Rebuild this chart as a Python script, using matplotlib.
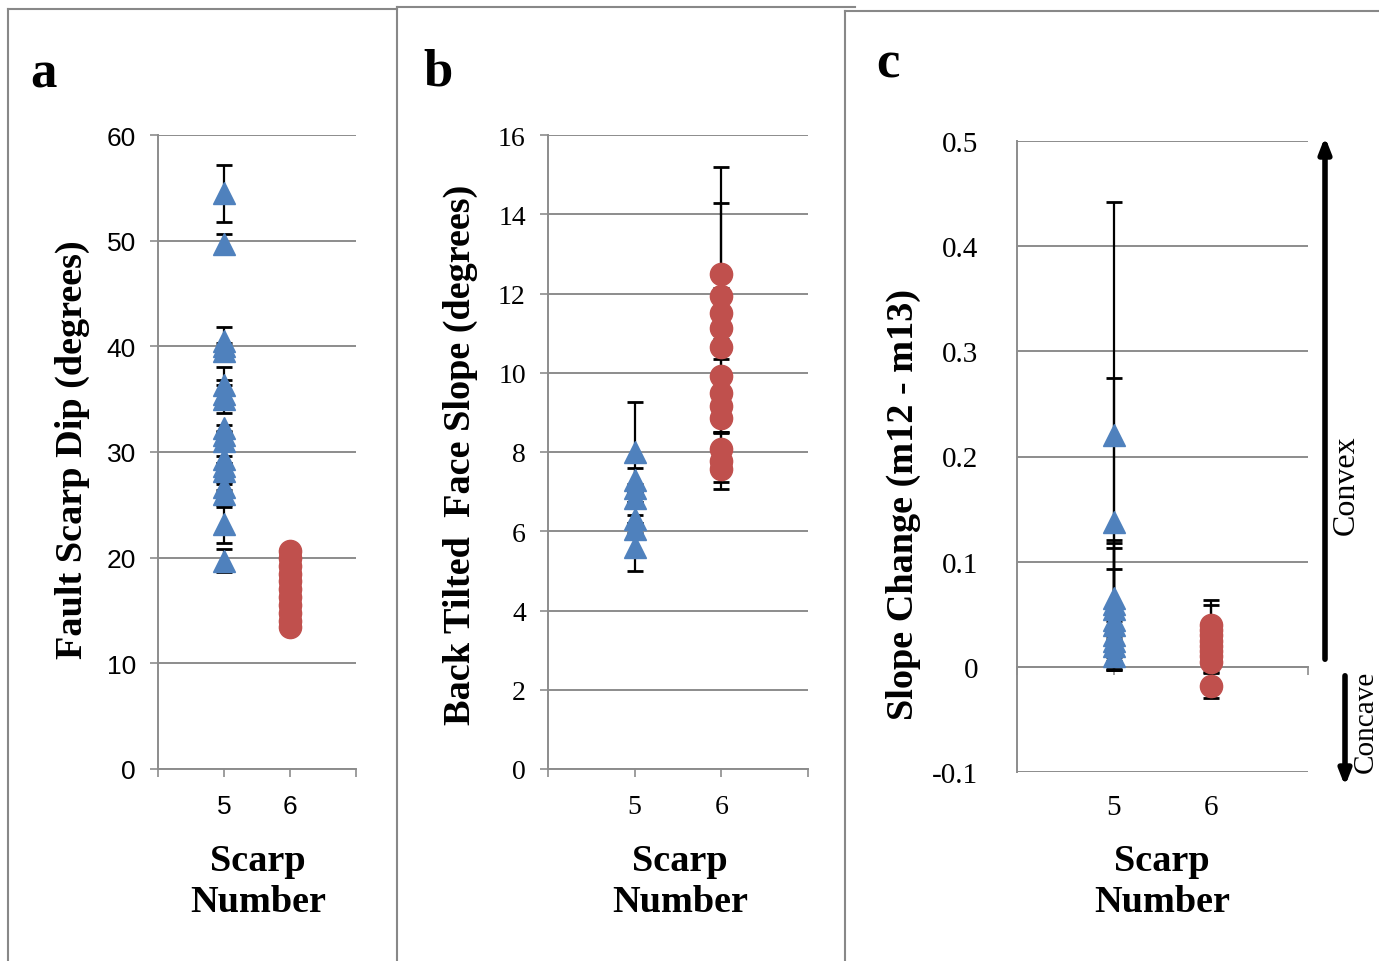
import matplotlib
matplotlib.use('Agg')
import matplotlib.pyplot as plt
from matplotlib.lines import Line2D
import numpy as np

# panel a: fault scarp dip (degrees)
dip5 = [54.5, 49.7, 40.5, 40.0, 39.6, 36.3, 35.5, 35.0, 32.3, 31.6, 31.0, 29.3, 28.7, 28.2, 26.7, 26.0, 23.2, 19.7]
dip5_err = [2.7, 0.9, 1.3, 0.3, 0.3, 1.7, 1.3, 1.3, 0.3, 0.3, 0.3, 0.3, 0.3, 0.3, 0.3, 1.2, 1.8, 1.1]
dip6 = [20.6, 20.0, 19.2, 18.5, 17.8, 17.0, 16.3, 15.5, 14.8, 14.0, 13.4]
dip6_err = [0.3, 0.2, 0.2, 0.2, 0.2, 0.2, 0.2, 0.2, 0.2, 0.2, 0.2]

# panel b: back tilted face slope (degrees)
slope5 = [8.0, 7.3, 7.1, 6.85, 6.3, 6.05, 5.6]
slope5_err = [1.25, 0.3, 0.1, 0.1, 0.1, 0.1, 0.6]
slope6 = [12.5, 11.94, 11.5, 11.14, 10.64, 9.92, 9.5, 9.17, 8.87, 8.07, 7.78, 7.57]
slope6_err = [2.7, 2.35, 0.65, 0.8, 0.1, 0.1, 0.1, 0.67, 0.37, 0.83, 0.71, 0.1]

# panel c: slope change (m12 - m13)
chg5 = [0.22, 0.138, 0.065, 0.06, 0.055, 0.045, 0.04, 0.03, 0.025, 0.02, 0.01]
chg5_err = [0.222, 0.137, 0.056, 0.058, 0.058, 0.048, 0.004, 0.004, 0.004, 0.004, 0.004]
chg6 = [0.04, 0.035, 0.03, 0.025, 0.02, 0.015, 0.01, 0.005, -0.018]
chg6_err = [0.024, 0.024, 0.004, 0.004, 0.004, 0.004, 0.004, 0.01, 0.012]

blue = '#4F81BD'
red = '#C0504D'
grid_c = '#8c8c8c'
serif = ['Liberation Serif', 'DejaVu Serif']
narrow = ['Liberation Sans Narrow', 'Liberation Sans', 'DejaVu Sans']

W, H = 1379, 962
fig = plt.figure(figsize=(W / 100, H / 100), dpi=100)


def box(l, r, t, b):
    return [l / W, 1 - b / H, (r - l) / W, (b - t) / H]


def draw_series(ax, xv, y, err, color, marker):
    x = [xv] * len(y)
    ax.errorbar(x, y, yerr=err, fmt='none', ecolor='black', elinewidth=1.6,
                capsize=6, capthick=2, zorder=2)
    ax.plot(x, y, linestyle='none', marker=marker, ms=16, color=color,
            markeredgecolor=color, zorder=5)


def style(ax, ylim, yticks, tickfont, ticksize):
    ax.set_xlim(4, 7)
    ax.set_ylim(*ylim)
    ax.set_yticks(yticks)
    ax.set_xticks([4, 5, 6, 7])
    ax.set_xticklabels(['', '5', '6', ''])
    ax.grid(axis='y', color=grid_c, linewidth=1.4)
    ax.set_axisbelow(True)
    for s in ['top', 'right']:
        ax.spines[s].set_visible(False)
    for s in ['left', 'bottom']:
        ax.spines[s].set_color(grid_c)
        ax.spines[s].set_linewidth(1.4)
    ax.tick_params(axis='y', direction='out', length=6, width=1.2, color=grid_c, pad=10)
    ax.tick_params(axis='x', direction='out', length=6, width=1.2, color=grid_c, pad=12)
    for t in ax.get_xticklabels() + ax.get_yticklabels():
        t.set_family(tickfont)
        t.set_fontsize(ticksize)


# panel a
ax1 = fig.add_axes(box(158, 356, 136, 770))
draw_series(ax1, 5, dip5, dip5_err, blue, '^')
draw_series(ax1, 6, dip6, dip6_err, red, 'o')
style(ax1, (0, 60), np.arange(0, 61, 10), narrow, 19)
ax1.set_ylabel('Fault Scarp Dip (degrees)', family=serif, fontsize=27.5, fontweight='bold')
ax1.yaxis.set_label_coords(-0.345, 0.505)

# panel b
ax2 = fig.add_axes(box(548, 808, 136, 770))
draw_series(ax2, 5, slope5, slope5_err, blue, '^')
draw_series(ax2, 6, slope6, slope6_err, red, 'o')
style(ax2, (0, 16), np.arange(0, 17, 2), serif, 20)
ax2.set_ylabel('Back Tilted  Face Slope (degrees)', family=serif, fontsize=27.5, fontweight='bold')
ax2.yaxis.set_label_coords(-0.27, 0.497)

# panel c
ax3 = fig.add_axes(box(1017, 1308, 142, 773))
draw_series(ax3, 5, chg5, chg5_err, blue, '^')
draw_series(ax3, 6, chg6, chg6_err, red, 'o')
style(ax3, (-0.1, 0.5), np.round(np.arange(-0.1, 0.51, 0.1), 1), serif, 20)
ax3.set_yticklabels(['-0.1', '0', '0.1', '0.2', '0.3', '0.4', '0.5'], family=serif, fontsize=21)
ax3.tick_params(axis='y', length=0, pad=28)
ax3.spines['bottom'].set_position(('data', 0))
ax3.tick_params(axis='x', labelbottom=False)
ax3.spines['left'].set_bounds(-0.1, 0.5)
sec = ax3.secondary_xaxis(0)
sec.set_xticks([5, 6])
sec.set_xticklabels(['5', '6'], family=serif, fontsize=21)
sec.tick_params(length=0, pad=16)
sec.spines['bottom'].set_visible(False)
ax3.set_ylabel('Slope Change (m12 - m13)', family=serif, fontsize=27.5, fontweight='bold')
ax3.yaxis.set_label_coords(-0.33, 0.425)

# x axis titles
for xc in [258, 680, 1162]:
    fig.text(xc / W, 1 - 882 / H, 'Scarp\nNumber', ha='center', va='center',
             family=serif, fontsize=27.5, fontweight='bold', linespacing=1.2)

# panel letters
for xl, yl, lab in [(30, 88, 'a'), (423, 85, 'b'), (876, 78, 'c')]:
    fig.text(xl / W, 1 - yl / H, lab, family=serif, fontsize=38, fontweight='bold',
             va='baseline')

# convex / concave arrows
fig.add_artist(plt.Annotation('', xy=(1325 / W, 1 - 135 / H), xytext=(1325 / W, 1 - 663 / H),
                              xycoords='figure fraction', textcoords='figure fraction',
                              arrowprops=dict(arrowstyle='-|>,head_length=0.9,head_width=0.35',
                                              color='black', lw=4)))
fig.add_artist(plt.Annotation('', xy=(1345 / W, 1 - 790 / H), xytext=(1345 / W, 1 - 674 / H),
                              xycoords='figure fraction', textcoords='figure fraction',
                              arrowprops=dict(arrowstyle='-|>,head_length=0.9,head_width=0.35',
                                              color='black', lw=4)))
fig.text(1346 / W, 1 - 485 / H, 'Convex', rotation=90, ha='center', va='center',
         family=serif, fontsize=23)
fig.text(1379 / W, 1 - 722 / H, 'Concave', rotation=90, ha='right', va='center',
         family=serif, fontsize=21)

# panel frames
frame = dict(color='#888888', lw=1.5)
for xs, ys in [([8, 8], [10, 962]), ([8, 397], [10, 10]),
               ([397, 397], [8, 962]), ([397, 855], [8, 8]),
               ([845, 845], [12, 962]), ([845, 1379], [12, 12])]:
    fig.add_artist(Line2D([x / W for x in xs], [1 - y / H for y in ys], **frame))

fig.savefig('out.png', dpi=100)
